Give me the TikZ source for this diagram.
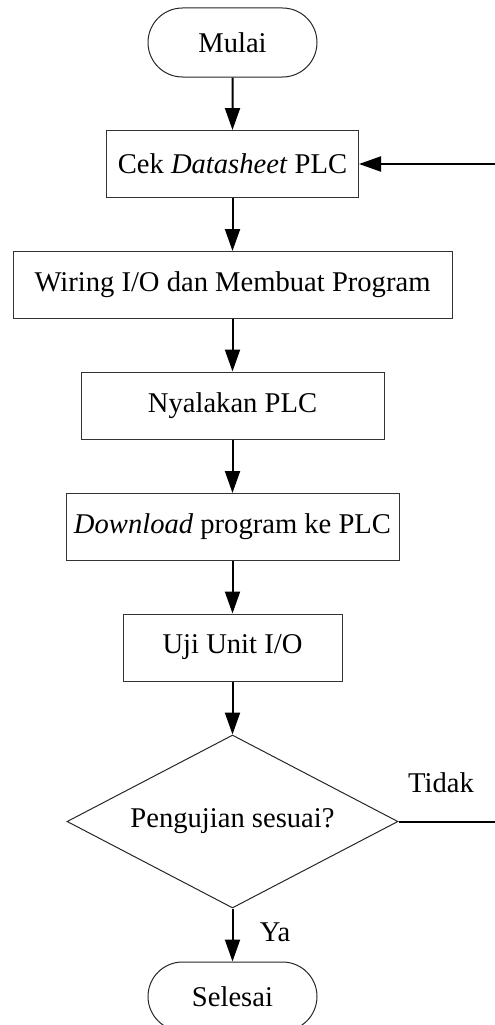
\documentclass[tikz,border=0pt]{standalone}
\usepackage{fontspec}
\setmainfont{Liberation Serif}
\usetikzlibrary{arrows.meta,shapes.misc,shapes.geometric}
\begin{document}
\begin{tikzpicture}[x=1pt,y=-1pt,
  every node/.style={font=\fontsize{28.6}{32}\selectfont},
  stepbox/.style={draw=black!80,line width=1pt,rectangle,minimum height=67pt,inner sep=0pt},
  term/.style={draw=black!85,line width=1pt,rounded rectangle,minimum width=169pt,minimum height=69pt,inner sep=0pt},
  decide/.style={draw=black!85,line width=1pt,diamond,aspect=1.91,minimum width=331pt,minimum height=173pt,inner sep=0pt},
  flow/.style={line width=2pt,-{Triangle[length=22pt,width=15pt]}},
  plain/.style={line width=2pt}]
\useasboundingbox (0,0) rectangle (495,1025);
\node[term] (mulai) at (232.5,42.5) {Mulai};
\node[stepbox,minimum width=252pt] (cek) at (232.5,164) {Cek \textit{Datasheet} PLC};
\node[stepbox,minimum width=439pt] (wiring) at (232.5,285) {Wiring I/O dan Membuat Program};
\node[stepbox,minimum width=303pt] (nyala) at (232.5,405.5) {Nyalakan PLC};
\node[stepbox,minimum width=333pt] (down) at (232.5,527) {\textit{Download} program ke PLC};
\node[stepbox,minimum width=219pt] (uji) at (232.5,647.5) {Uji Unit I/O};
\node[decide] (cek2) at (232.5,821.5) {Pengujian sesuai?};
\node[term] (selesai) at (232.5,996.5) {Selesai};
\node (tidak) at (441,783) {Tidak};
\node (ya) at (275,932) {Ya};
\coordinate (c1) at (496,821.5);
\coordinate (c2) at (496,164);
\draw[flow] (mulai) -- (cek);
\draw[flow] (cek) -- (wiring);
\draw[flow] (wiring) -- (nyala);
\draw[flow] (nyala) -- (down);
\draw[flow] (down) -- (uji);
\draw[flow] (uji) -- (cek2);
\draw[flow] (cek2) -- (selesai);
\draw[plain] (cek2.east) -- (c1) -- (c2);
\draw[flow] (c2) -- (cek.east);
\end{tikzpicture}
\end{document}
